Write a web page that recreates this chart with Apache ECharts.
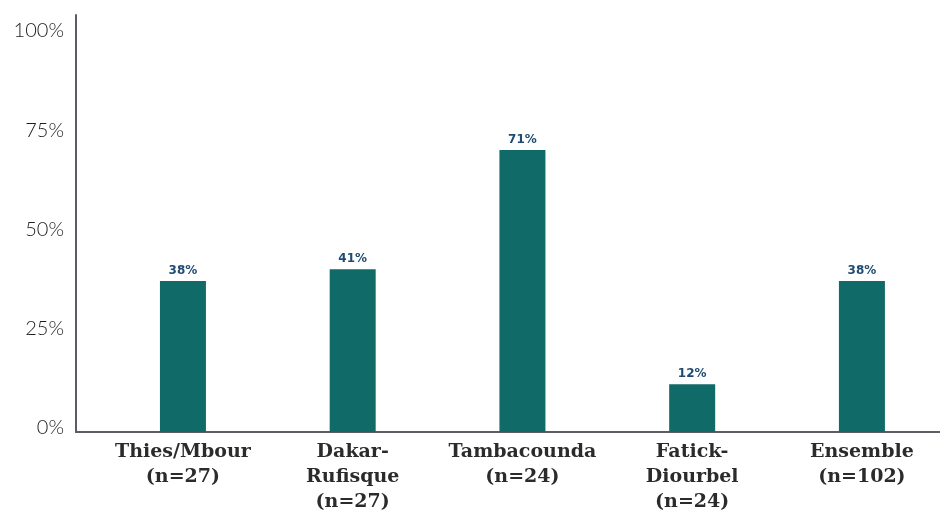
<!DOCTYPE html>
<html>
<head>
<meta charset="utf-8">
<script src="https://cdn.jsdelivr.net/npm/echarts@6/dist/echarts.min.js"></script>
<style>
html,body{margin:0;padding:0;background:#fff;}
#chart{width:940px;height:515px;}
</style>
</head>
<body>
<div id="chart"></div>
<script>
// Regions surveyed and share of respondents (%)
const categories = [
  'Thies/Mbour\n(n=27)',
  'Dakar-\nRufisque\n(n=27)',
  'Tambacounda\n(n=24)',
  'Fatick-\nDiourbel\n(n=24)',
  'Ensemble\n(n=102)'
];
const values = [38, 41, 71, 12, 38];
const yTicks = [0, 25, 50, 75, 100];

const positions = categories.map((_, i) => i);

const chart = echarts.init(document.getElementById('chart'), null, { renderer: 'canvas' });
chart.setOption({
  animation: false,
  grid: { left: 76, right: 0, top: 15, bottom: 83, containLabel: false },
  xAxis: {
    type: 'value',
    min: -0.63,
    max: 4.46,
    splitLine: { show: false },
    axisLine: { show: true, onZero: false, lineStyle: { color: '#5a5e63', width: 2 } },
    axisTick: { show: false },
    axisLabel: {
      customValues: positions,
      formatter: v => categories[Math.round(v)] || '',
      color: '#2b2b2b',
      fontFamily: 'DejaVu Serif',
      fontWeight: 'bold',
      fontSize: 19,
      lineHeight: 25,
      margin: 8
    }
  },
  yAxis: {
    type: 'value',
    min: 0,
    max: 105,
    splitLine: { show: false },
    axisLine: { show: true, onZero: false, lineStyle: { color: '#5a5e63', width: 2 } },
    axisTick: { show: false },
    axisLabel: {
      customValues: yTicks,
      formatter: v => v + '%',
      color: '#1e1e1e',
      fontFamily: 'Lato',
      fontWeight: 300,
      fontSize: 20,
      margin: 12,
      verticalAlign: 'bottom',
      lineHeight: 8
    }
  },
  series: [{
    type: 'bar',
    barWidth: 46,
    data: values.map((v, i) => [positions[i], v]),
    itemStyle: { color: '#106b68' },
    label: {
      show: true,
      position: 'top',
      distance: 4,
      formatter: p => p.value[1] + '%',
      color: '#1f4a72',
      fontFamily: 'DejaVu Sans',
      fontWeight: 'bold',
      fontSize: 12
    }
  }]
});
</script>
</body>
</html>
